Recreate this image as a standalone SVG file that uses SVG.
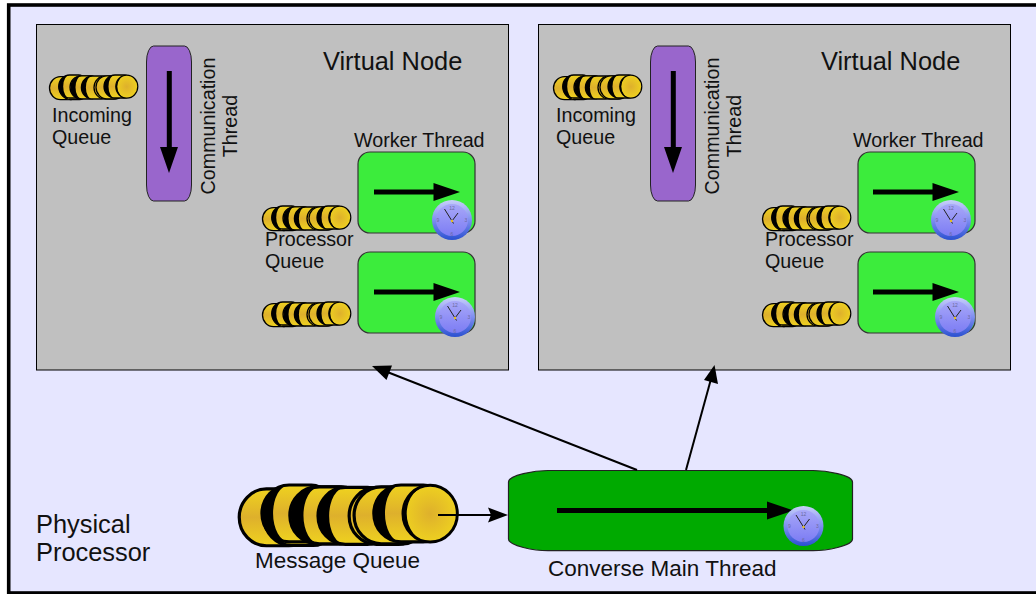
<svg xmlns="http://www.w3.org/2000/svg" xmlns:xlink="http://www.w3.org/1999/xlink" width="1036" height="594" viewBox="0 0 1036 594">
<style>
text{font-family:"Liberation Sans",Arial,sans-serif;fill:#111}
.s{font-size:19.7px}.l{font-size:25.4px}.m{font-size:22.5px}
.vn{fill:#c0c0c0;stroke:#000;stroke-width:1}
.pu{fill:#9966cc;stroke:#222;stroke-width:1}
.wk{fill:#3cec3c;stroke:#333;stroke-width:1.2}
.mn{fill:#00aa00;stroke:#222;stroke-width:1.2}
.coin{fill:url(#bg);stroke:#000;stroke-width:1.3}
.face{fill:url(#cg);stroke:#000;stroke-width:1.2}
.d{font-size:5px;fill:#6a6aa0;text-anchor:middle}
.cn{stroke:#000;stroke-width:2;fill:none}
</style>
<defs>
<radialGradient id="cg"><stop offset="0" stop-color="#deb02c"/><stop offset="1" stop-color="#eed020"/></radialGradient>
<linearGradient id="bg" x1="0" y1="0" x2="0" y2="1"><stop offset="0" stop-color="#efd21f"/><stop offset=".5" stop-color="#deb02c"/><stop offset="1" stop-color="#efd21f"/></linearGradient>
<linearGradient id="rg" x1="0" y1="0" x2="0" y2="1"><stop offset="0" stop-color="#c8d0fa"/><stop offset=".5" stop-color="#7f8ff0"/><stop offset="1" stop-color="#2a50d0"/></linearGradient>
<linearGradient id="fg" x1="0" y1="0" x2="0" y2="1"><stop offset="0" stop-color="#a8a8f8"/><stop offset="1" stop-color="#7c7cf4"/></linearGradient>
<g id="cyl">
<path class="coin" d="M11 0H20A9 11.500 0 0 1 20 23H11A11 11.500 0 0 1 11 0Z"/>
</g>
<g id="cylk">
<use href="#cyl"/>
<path d="M11 0A11 11.500 0 0 0 11 23A6.500 11.500 0 0 1 11 0Z"/>
</g>
<g id="queue">
<use href="#cyl" x="0.500" y="1.600"/>
<use href="#cylk" x="10.500" y="1.500"/>
<use href="#cylk" x="9.700" y="0"/>
<use href="#cyl" x="21" y="0.800"/>
<use href="#cylk" x="22" y="0.800"/>
<use href="#cylk" x="32.400" y="1"/>
<use href="#cyl" x="45" y="1"/>
<use href="#cyl" x="47" y="0.800"/>
<use href="#cylk" x="55" y="0"/>
<ellipse class="face" cx="77.800" cy="11.600" rx="11" ry="11.500"/>
<path d="M77.800 0.100A11 11.500 0 0 0 77.800 23.100A9.500 11.500 0 0 1 77.800 0.100Z"/>
</g>
<g id="clock">
<circle r="20" fill="url(#rg)"/>
<circle r="16" fill="url(#fg)"/>
<text class="d" y="-10.500">12</text><text class="d" y="16">6</text><text class="d" x="-14" y="2">9</text><text class="d" x="14" y="2">3</text>
<path d="M0 1L-7.500-11M0 1L6-7M0 1L1.500 3.500" stroke="#222" stroke-width="1" fill="none"/>
<circle cy="1" r="1.200" fill="#e8c020"/>
</g>
<path id="hd" d="M0-9L26.500 0L0 9Z" fill="#000"/>
</defs>

<rect x="8.700" y="5" width="1040" height="588" fill="#e6e6ff" stroke="#000" stroke-width="3.600"/>

<g id="virtual-node-1">
<rect class="vn" x="36.500" y="24.500" width="472" height="345.500"/>
<text class="l" x="323" y="70">Virtual Node</text>
</g>
<g id="incoming-queue-1">
<use href="#queue" x="49" y="75"/>
<text class="s" x="52" y="122">Incoming</text><text class="s" x="52" y="144">Queue</text>
</g>
<g id="communication-thread-1">
<rect class="pu" x="146.500" y="46" width="45" height="155" rx="7" ry="16"/>
<rect x="166.800" y="71" width="5" height="78"/>
<path d="M160 147H178L169 173Z"/>
<text class="s" text-anchor="middle" transform="translate(215 126) rotate(-90)">Communication</text>
<text class="s" text-anchor="middle" transform="translate(237 126) rotate(-90)">Thread</text>
</g>
<g id="processor-queue-1a">
<use href="#queue" x="262" y="206"/>
<text class="s" x="265" y="246">Processor</text><text class="s" x="265" y="268">Queue</text>
</g>
<g id="processor-queue-1b"><use href="#queue" x="262" y="302"/></g>
<g id="worker-thread-1a">
<text class="s" x="354" y="147">Worker Thread</text>
<rect class="wk" x="358" y="152" width="117" height="81" rx="12" ry="12"/>
<rect x="374" y="189.500" width="60" height="5"/>
<use href="#hd" x="433.500" y="192"/>
<use href="#clock" x="452" y="220"/>
</g>
<g id="worker-thread-1b">
<rect class="wk" x="358" y="252" width="117" height="81" rx="12" ry="12"/>
<rect x="374" y="289.500" width="60" height="5"/>
<use href="#hd" x="433.500" y="292"/>
<use href="#clock" x="455" y="317"/>
</g>

<g id="virtual-node-2">
<rect class="vn" x="538.500" y="24.500" width="472" height="345.500"/>
<text class="l" x="821" y="70">Virtual Node</text>
</g>
<g id="incoming-queue-2">
<use href="#queue" x="553" y="75"/>
<text class="s" x="556" y="122">Incoming</text><text class="s" x="556" y="144">Queue</text>
</g>
<g id="communication-thread-2">
<rect class="pu" x="650.500" y="46" width="45" height="155" rx="7" ry="16"/>
<rect x="670.800" y="71" width="5" height="78"/>
<path d="M664 147H682L673 173Z"/>
<text class="s" text-anchor="middle" transform="translate(719 126) rotate(-90)">Communication</text>
<text class="s" text-anchor="middle" transform="translate(741 126) rotate(-90)">Thread</text>
</g>
<g id="processor-queue-2a">
<use href="#queue" x="762" y="206"/>
<text class="s" x="765" y="246">Processor</text><text class="s" x="765" y="268">Queue</text>
</g>
<g id="processor-queue-2b"><use href="#queue" x="762" y="302"/></g>
<g id="worker-thread-2a">
<text class="s" x="853" y="147">Worker Thread</text>
<rect class="wk" x="858" y="152" width="117" height="81" rx="12" ry="12"/>
<rect x="873" y="189.500" width="60" height="5"/>
<use href="#hd" x="932.500" y="192"/>
<use href="#clock" x="951" y="220"/>
</g>
<g id="worker-thread-2b">
<rect class="wk" x="858" y="252" width="117" height="81" rx="12" ry="12"/>
<rect x="873" y="289.500" width="60" height="5"/>
<use href="#hd" x="932.500" y="292"/>
<use href="#clock" x="955" y="317"/>
</g>

<g id="message-queue">
<use href="#queue" transform="translate(238 485) scale(2.47)"/>
<text class="m" x="255" y="568">Message Queue</text>
</g>
<g id="converse-main-thread">
<path class="mn" d="M508.500 482C508.500 475 535 470.500 548 470.500H813C826 470.500 852.500 475 852.500 482V539C852.500 546 826 550.700 813 550.700H548C535 550.700 508.500 546 508.500 539Z"/>
<rect x="557" y="508" width="212" height="5"/>
<use href="#hd" x="767" y="510.500"/>
<use href="#clock" x="803.500" y="526"/>
<text class="m" x="548" y="576">Converse Main Thread</text>
</g>
<g id="physical-processor">
<text class="l" x="36" y="533">Physical</text><text class="l" x="36" y="561">Processor</text>
</g>

<g id="connectors">
<path class="cn" d="M438 515H492"/><path d="M488 507.500L508 515L488 522.500L491 515Z"/>
<path class="cn" d="M637 470L386 371.500"/><path d="M372 366L392 365.500L386.500 380Z"/>
<path class="cn" d="M686 470L711 379"/><path d="M714.500 365L718 384L704 380Z"/>
</g>
</svg>
